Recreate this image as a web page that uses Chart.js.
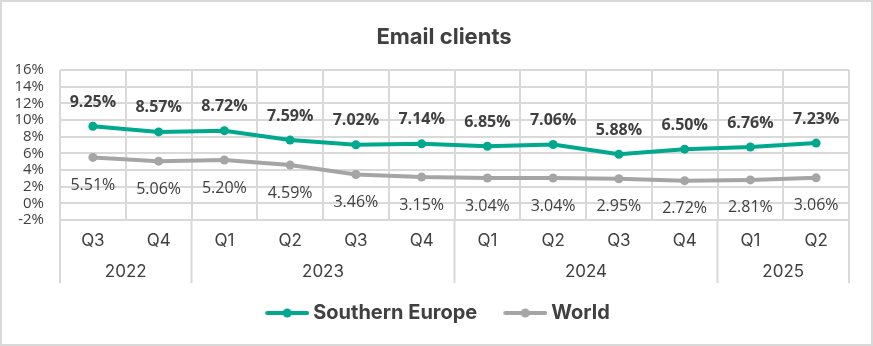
<!DOCTYPE html>
<html>
<head>
<meta charset="utf-8">
<script src="https://cdn.jsdelivr.net/npm/chart.js@4.4.1/dist/chart.umd.min.js"></script>
<style>
    html, body { margin: 0; padding: 0; background: #fff; }
    #wrap { position: relative; width: 873px; height: 346px; }
</style>
</head>
<body>
<div id="wrap"><canvas id="emailChart" width="873" height="346"></canvas></div>
<script>
// datos
const quarters = ['Q3', 'Q4', 'Q1', 'Q2', 'Q3', 'Q4', 'Q1', 'Q2', 'Q3', 'Q4', 'Q1', 'Q2'];
const years = [
    { label: '2022', from: 0, to: 2 },
    { label: '2023', from: 2, to: 6 },
    { label: '2024', from: 6, to: 10 },
    { label: '2025', from: 10, to: 12 }
];
const southernEurope = [9.25, 8.57, 8.72, 7.59, 7.02, 7.14, 6.85, 7.06, 5.88, 6.50, 6.76, 7.23];
const world = [5.51, 5.06, 5.20, 4.59, 3.46, 3.15, 3.04, 3.04, 2.95, 2.72, 2.81, 3.06];
const yTicks = [-2, 0, 2, 4, 6, 8, 10, 12, 14, 16];
const chartTitle = 'Email clients';

const TEAL = '#00a88e';
const GREY = '#a5a5a5';
const TEXT = '#404040';
const GRID = '#d9d9d9';
const GEO = 'Inter, "Noto Sans", sans-serif';
const LBL = '"Open Sans", "Noto Sans", sans-serif';

// muestra de leyenda: linea con punto (margen transparente a la izquierda)
const legendSwatch = (color) => {
    const c = document.createElement('canvas');
    c.width = 64; c.height = 10;
    const g = c.getContext('2d');
    g.strokeStyle = color; g.lineWidth = 4; g.lineCap = 'round';
    g.beginPath(); g.moveTo(22, 5); g.lineTo(62, 5); g.stroke();
    g.fillStyle = color;
    g.beginPath(); g.arc(42, 5, 4.5, 0, Math.PI * 2); g.fill();
    return c;
};

const fmt = v => v.toFixed(2) + '%';

// marco y titulo
const frame = {
    id: 'frame',
    afterDraw(chart) {
        const { ctx, width, height } = chart;
        ctx.save();
        ctx.strokeStyle = GRID;
        ctx.lineWidth = 2;
        ctx.strokeRect(1, 1, width - 2, height - 2);
        ctx.fillStyle = TEXT;
        ctx.font = 'bold 22px ' + GEO;
        ctx.textAlign = 'center';
        ctx.textBaseline = 'middle';
        ctx.fillText(chartTitle, 444, 37);
        ctx.restore();
    }
};

const pointLabels = {
    id: 'pointLabels',
    afterDatasetsDraw(chart) {
        const { ctx } = chart;
        ctx.save();
        ctx.textAlign = 'center';
        ctx.textBaseline = 'middle';
        chart.data.datasets.forEach((ds, i) => {
            const meta = chart.getDatasetMeta(i);
            ctx.font = (ds.labelBold ? 'bold ' : '') + '16px ' + LBL;
            ctx.fillStyle = TEXT;
            meta.data.forEach((pt, j) => {
                const dy = ds.labelAbove ? -24 : 28;
                ctx.fillText(fmt(ds.data[j]), pt.x, pt.y + dy);
            });
        });
        ctx.restore();
    }
};

const yearAxis = {
    id: 'yearAxis',
    afterDraw(chart) {
        const { ctx, chartArea } = chart;
        const x = chart.scales.x;
        const half = (x.getPixelForValue(1) - x.getPixelForValue(0)) / 2;
        const bottom = chartArea.bottom + 63;
        ctx.save();
        ctx.strokeStyle = GRID;
        ctx.lineWidth = 2;
        ctx.fillStyle = TEXT;
        ctx.font = '17px ' + GEO;
        ctx.textAlign = 'center';
        ctx.textBaseline = 'middle';
        years.forEach((y, k) => {
            const left = x.getPixelForValue(y.from) - half;
            const right = x.getPixelForValue(y.to - 1) + half;
            ctx.beginPath();
            ctx.moveTo(left, chartArea.bottom);
            ctx.lineTo(left, bottom);
            if (k === years.length - 1) {
                ctx.moveTo(right, chartArea.bottom);
                ctx.lineTo(right, bottom);
            }
            ctx.stroke();
            ctx.fillText(y.label, (left + right) / 2, chartArea.bottom + 52);
        });
        ctx.restore();
    }
};

const ctx = document.getElementById('emailChart').getContext('2d');
new Chart(ctx, {
    type: 'line',
    data: {
        labels: quarters,
        datasets: [
            {
                label: 'Southern Europe',
                data: southernEurope,
                borderColor: TEAL,
                backgroundColor: TEAL,
                borderWidth: 4,
                pointRadius: 4.5,
                pointBorderWidth: 0,
                pointStyle: 'circle',
                labelAbove: true,
                labelBold: true
            },
            {
                label: 'World',
                data: world,
                borderColor: GREY,
                backgroundColor: GREY,
                borderWidth: 4,
                pointRadius: 4.5,
                pointBorderWidth: 0,
                pointStyle: 'circle',
                labelAbove: false,
                labelBold: false
            }
        ]
    },
    options: {
        responsive: false,
        animation: false,
        layout: { padding: { left: 12, right: 24, top: 70, bottom: 13 } },
        plugins: {
            title: { display: false },
            legend: {
                position: 'bottom',
                labels: {
                    color: TEXT,
                    font: { family: GEO, size: 20, weight: 'bold' },
                    usePointStyle: true,
                    pointStyleWidth: 52,
                    padding: 12,
                    generateLabels: (chart) => chart.data.datasets.map((ds, i) => ({
                        text: ds.label,
                        fontColor: TEXT,
                        pointStyle: legendSwatch(ds.borderColor),
                        datasetIndex: i,
                        hidden: false,
                        lineWidth: 0
                    }))
                }
            },
            tooltip: { enabled: false }
        },
        scales: {
            x: {
                offset: true,
                grid: { color: GRID, lineWidth: 2, offset: true, drawTicks: false },
                border: { color: GRID, width: 2 },
                ticks: { color: TEXT, font: { family: GEO, size: 17 }, padding: 11, maxRotation: 0 },
                afterFit: (s) => { s.height = 71; }
            },
            y: {
                min: -2,
                max: 16,
                afterBuildTicks: (s) => { s.ticks = yTicks.map(v => ({ value: v })); },
                grid: { color: GRID, lineWidth: 2, drawTicks: false },
                border: { display: false },
                ticks: {
                    color: TEXT,
                    font: { family: LBL, size: 15 },
                    padding: 16,
                    autoSkip: false,
                    callback: v => v + '%'
                },
                afterFit: (s) => { s.width = 48; }
            }
        }
    },
    plugins: [pointLabels, yearAxis, frame]
});
</script>
</body>
</html>
